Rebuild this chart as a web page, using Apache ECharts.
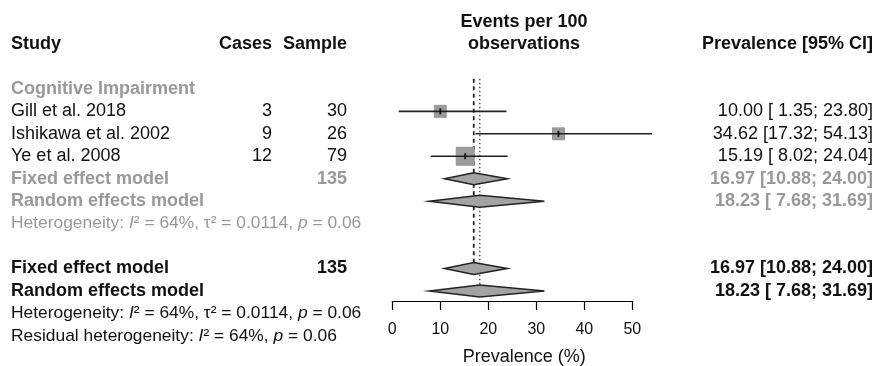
<!DOCTYPE html>
<html>
<head>
<meta charset="utf-8">
<script src="https://cdn.jsdelivr.net/npm/echarts@6/dist/echarts.min.js"></script>
<style>
  html, body { margin: 0; padding: 0; background: #fff; }
  #forest { width: 879px; height: 366px; }
</style>
</head>
<body>
<div id="forest"></div>
<script>
// study level data
var studyNames = ['Gill et al. 2018', 'Ishikawa et al. 2002', 'Ye et al. 2008'];
var studyCases = [3, 9, 12];
var studySample = [30, 26, 79];
var studyEst = [10.00, 34.62, 15.19];
var studyLower = [1.35, 17.32, 8.02];
var studyUpper = [23.80, 54.13, 24.04];
var studyWeight = [23.5, 23.5, 53.0]; // estimated from the square sizes

// pooled models (same for the subgroup and overall)
var modelNames = ['Fixed effect model', 'Random effects model'];
var modelEst = [16.97, 18.23];
var modelLower = [10.88, 7.68];
var modelUpper = [24.00, 31.69];
var totalSample = 135;

var subgroupName = 'Cognitive Impairment';
var hetI2 = '64%';
var hetTau2 = '0.0114';
var hetP = '0.06';

var FONT = '"Liberation Sans", Arial, Helvetica, sans-serif';
var GREY = '#999999';
var BLACK = '#111111';
var HET_SIZE = 17.4;

function fmt(v) { return v.toFixed(2); }
function ciText(e, l, u) {
  var ls = fmt(l), us = fmt(u);
  if (ls.length < 5) ls = ' ' + ls;
  if (us.length < 5) us = ' ' + us;
  return fmt(e) + ' [' + ls + '; ' + us + ']';
}

// text column positions (pixels) and rows
var COL_STUDY = 11, COL_CASES = 272, COL_SAMPLE = 347, COL_HEAD = 524, COL_CI = 873;
var ROW_SUB = 2, ROW_STUDY0 = 3, ROW_SUBMODEL = 6, ROW_SUBHET = 8, ROW_MODEL = 10, ROW_HET = 12;
var TOP = 44, ROW_H = 22.45;

var textItems = [];
function addText(x, row, text, align, color, bold, size, rich) {
  textItems.push({ x: x, row: row, text: text, align: align, color: color, bold: bold, size: size || 18, rich: rich });
}

addText(COL_STUDY, 0, 'Study', 'left', BLACK, true);
addText(COL_CASES, 0, 'Cases', 'right', BLACK, true);
addText(COL_SAMPLE, 0, 'Sample', 'right', BLACK, true);
addText(COL_HEAD, -0.97, 'Events per 100', 'center', BLACK, true);
addText(COL_HEAD, 0, 'observations', 'center', BLACK, true);
addText(COL_CI, 0, 'Prevalence [95% CI]', 'right', BLACK, true);

addText(COL_STUDY, ROW_SUB, subgroupName, 'left', GREY, true);
studyNames.forEach(function (n, i) {
  var r = ROW_STUDY0 + i;
  addText(COL_STUDY, r, n, 'left', BLACK, false);
  addText(COL_CASES, r, String(studyCases[i]), 'right', BLACK, false);
  addText(COL_SAMPLE, r, String(studySample[i]), 'right', BLACK, false);
  addText(COL_CI, r, ciText(studyEst[i], studyLower[i], studyUpper[i]), 'right', BLACK, false);
});

function italicRich(color) {
  return { i: { fontStyle: 'italic', fontSize: HET_SIZE, fontFamily: FONT, fill: color } };
}
var hetStr = 'Heterogeneity: {i|I}² = ' + hetI2 + ', τ² = ' + hetTau2 + ', {i|p} = ' + hetP;
var resStr = 'Residual heterogeneity: {i|I}² = ' + hetI2 + ', {i|p} = ' + hetP;

[[ROW_SUBMODEL, GREY, ROW_SUBHET], [ROW_MODEL, BLACK, ROW_HET]].forEach(function (blk) {
  var r0 = blk[0], col = blk[1];
  modelNames.forEach(function (n, k) {
    addText(COL_STUDY, r0 + k, n, 'left', col, true);
    addText(COL_CI, r0 + k, ciText(modelEst[k], modelLower[k], modelUpper[k]), 'right', col, true);
  });
  addText(COL_SAMPLE, r0, String(totalSample), 'right', col, true);
  addText(COL_STUDY, blk[2], hetStr, 'left', col, false, HET_SIZE, italicRich(col));
});
addText(COL_STUDY, ROW_HET + 1, resStr, 'left', BLACK, false, HET_SIZE, italicRich(BLACK));

var maxWeight = Math.max.apply(null, studyWeight);

var studyData = studyEst.map(function (e, i) {
  return [e, studyLower[i], studyUpper[i], ROW_STUDY0 + i, studyWeight[i]];
});
var diamondData = [];
[ROW_SUBMODEL, ROW_MODEL].forEach(function (r0) {
  modelNames.forEach(function (n, k) {
    diamondData.push([modelEst[k], modelLower[k], modelUpper[k], r0 + k]);
  });
});
// reference lines: fixed (dashed) ends at overall fixed row, random (dotted) at overall random row
var refData = [[modelEst[0], 1.55, ROW_MODEL, 0], [modelEst[1], 1.55, ROW_MODEL + 1, 1]];

var option = {
  animation: false,
  textStyle: { fontFamily: FONT },
  grid: [
    { left: 392.3, top: TOP, width: 240, height: ROW_H * 11.45, outerBoundsMode: 'none', containLabel: false },
    { left: 0, top: TOP, width: 879, height: ROW_H * 13, outerBoundsMode: 'none', containLabel: false }
  ],
  xAxis: [
    {
      gridIndex: 0, type: 'value', min: 0, max: 50, interval: 10,
      splitLine: { show: false },
      axisLine: { show: true, onZero: false, lineStyle: { color: '#000', width: 1.2 } },
      axisTick: { show: true, length: 9, lineStyle: { color: '#000', width: 1.2 } },
      axisLabel: { color: BLACK, fontSize: 16, margin: 21, fontFamily: FONT },
      name: 'Prevalence (%)', nameLocation: 'middle', nameGap: 47,
      nameTextStyle: { color: BLACK, fontSize: 18, fontFamily: FONT, padding: [0, 0, 0, 24] }
    },
    { gridIndex: 1, type: 'value', min: 0, max: 879, show: false }
  ],
  yAxis: [
    { gridIndex: 0, type: 'value', min: 0, max: 11.45, inverse: true, show: false },
    { gridIndex: 1, type: 'value', min: 0, max: 13, inverse: true, show: false }
  ],
  series: [
    {
      type: 'custom', xAxisIndex: 0, yAxisIndex: 0, clip: false, z: 1,
      data: refData,
      encode: { x: 0, y: [1, 2] },
      renderItem: function (params, api) {
        var top = api.coord([api.value(0), api.value(1)]);
        var bot = api.coord([api.value(0), api.value(2)]);
        var dotted = api.value(3) === 1;
        return {
          type: 'line',
          shape: { x1: top[0], y1: top[1], x2: bot[0], y2: bot[1] },
          style: dotted
            ? { stroke: '#333', lineWidth: 1.2, lineDash: [1.5, 2.5] }
            : { stroke: '#222', lineWidth: 1.8, lineDash: [4, 3.5] }
        };
      }
    },
    {
      type: 'custom', xAxisIndex: 0, yAxisIndex: 0, clip: false, z: 2,
      data: studyData,
      encode: { x: [0, 1, 2], y: 3 },
      renderItem: function (params, api) {
        var row = api.value(3);
        var c = api.coord([api.value(0), row]);
        var lo = api.coord([api.value(1), row]);
        var hi = api.coord([api.value(2), row]);
        var s = 18 * Math.sqrt(api.value(4) / maxWeight);
        return {
          type: 'group',
          children: [
            { type: 'rect', shape: { x: c[0] - s / 2, y: c[1] - s / 2, width: s, height: s }, style: { fill: '#9c9c9c', stroke: '#8a8a8a', lineWidth: 0.8 } },
            { type: 'line', shape: { x1: lo[0], y1: c[1], x2: hi[0], y2: c[1] }, style: { stroke: '#222', lineWidth: 1.6 } },
            { type: 'line', shape: { x1: c[0], y1: c[1] - 3, x2: c[0], y2: c[1] + 3 }, style: { stroke: '#111', lineWidth: 1.8 } }
          ]
        };
      }
    },
    {
      type: 'custom', xAxisIndex: 0, yAxisIndex: 0, clip: false, z: 3,
      data: diamondData,
      encode: { x: [0, 1, 2], y: 3 },
      renderItem: function (params, api) {
        var row = api.value(3);
        var c = api.coord([api.value(0), row]);
        var lo = api.coord([api.value(1), row]);
        var hi = api.coord([api.value(2), row]);
        var h = 6;
        return {
          type: 'polygon',
          shape: { points: [[lo[0], c[1]], [c[0], c[1] - h], [hi[0], c[1]], [c[0], c[1] + h]] },
          style: { fill: '#a3a3a3', stroke: '#222', lineWidth: 1.5 }
        };
      }
    },
    {
      type: 'custom', xAxisIndex: 1, yAxisIndex: 1, clip: false, z: 4,
      data: textItems.map(function (t) { return [t.x, t.row]; }),
      renderItem: function (params, api) {
        var t = textItems[params.dataIndex];
        var p = api.coord([api.value(0), api.value(1)]);
        return {
          type: 'text',
          x: p[0], y: p[1],
          style: {
            text: t.text,
            align: t.align,
            verticalAlign: 'middle',
            fill: t.color,
            fontSize: t.size,
            fontWeight: t.bold ? 'bold' : 'normal',
            fontFamily: FONT,
            rich: t.rich
          }
        };
      }
    }
  ]
};

var forestChart = echarts.init(document.getElementById('forest'));
forestChart.setOption(option);
</script>
</body>
</html>
